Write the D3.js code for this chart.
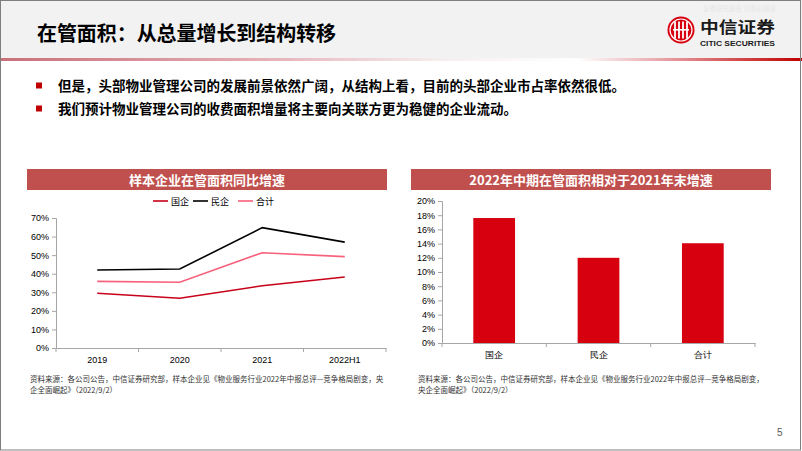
<!DOCTYPE html>
<html><head><meta charset="utf-8">
<script src="https://cdn.jsdelivr.net/npm/d3@7/dist/d3.min.js"></script>
<style>
html,body{margin:0;padding:0;background:#fff;}
svg{display:block;font-family:"Noto Sans CJK SC","Noto Sans",sans-serif;}
</style></head>
<body>
<svg id="c" width="802" height="451"></svg>
<script>
// ---- data ----
const pageTitle = "在管面积：从总量增长到结构转移";
const bullets = [
  "但是，头部物业管理公司的发展前景依然广阔，从结构上看，目前的头部企业市占率依然很低。",
  "我们预计物业管理公司的收费面积增量将主要向关联方更为稳健的企业流动。"
];
const lineTitle = "样本企业在管面积同比增速";
const barTitle = "2022年中期在管面积相对于2021年末增速";
const years = ["2019", "2020", "2021", "2022H1"];
const seriesNames = ["国企", "民企", "合计"];
const soeValues = [29.5, 26.8, 33.5, 38.2];
const privValues = [42.0, 42.5, 64.8, 57.0];
const totalValues = [35.9, 35.4, 51.3, 49.2];
const lineTicks = [0, 10, 20, 30, 40, 50, 60, 70];
const barCats = ["国企", "民企", "合计"];
const barValues = [17.6, 12.0, 14.05];
const barTicks = [0, 2, 4, 6, 8, 10, 12, 14, 16, 18, 20];
const sourceLeft = ["资料来源：各公司公告，中信证券研究部，样本企业见《物业服务行业2022年中报总评—竞争格局剧变，央", "企全面崛起》（2022/9/2）"];
const sourceRight = ["资料来源：各公司公告，中信证券研究部，样本企业见《物业服务行业2022年中报总评—竞争格局剧变，", "央企全面崛起》（2022/9/2）"];

const svg = d3.select("#c");
const defs = svg.append("defs");

// ---- page frame ----
svg.append("rect").attr("x",0).attr("y",0).attr("width",802).attr("height",59).attr("fill","#f2f2f2");
const g1 = defs.append("linearGradient").attr("id","hl").attr("x1","0").attr("x2","1").attr("y1","0").attr("y2","0");
[[0,"#c8707a"],[0.3,"#e3a9b0"],[0.55,"#f6eeee"],[0.72,"#ffffff"],[0.82,"#e9a9ae"],[1,"#c00000"]].forEach(s=>g1.append("stop").attr("offset",s[0]).attr("stop-color",s[1]));
svg.append("rect").attr("x",0).attr("y",58).attr("width",802).attr("height",3).attr("fill","url(#hl)");
svg.append("rect").attr("x",0.5).attr("y",0.5).attr("width",800).attr("height",449.5).attr("fill","none").attr("stroke","#7f7f7f").attr("stroke-width",1);

svg.append("text").attr("x",37).attr("y",41).attr("font-size",20).attr("font-weight","bold").attr("fill","#000")
  .attr("textLength",299).attr("lengthAdjust","spacingAndGlyphs").text(pageTitle);

// logo
svg.append("text").attr("x",703).attr("y",11).attr("font-size",6.5).attr("fill","#e6e6e6").text("证券研究报告  请务必阅读");
const lg = svg.append("g").attr("transform","translate(681,30)");
lg.append("circle").attr("r",13.5).attr("fill","#d7000f");
lg.append("circle").attr("r",11).attr("fill","none").attr("stroke","#fff").attr("stroke-width",1.2);
[-6,-2,2,6].forEach(x=>lg.append("rect").attr("x",x-0.9).attr("y",-8.5).attr("width",1.8).attr("height",17).attr("fill","#fff"));
lg.append("rect").attr("x",-8).attr("y",-1).attr("width",16).attr("height",1.6).attr("fill","#fff");
svg.append("text").attr("x",700).attr("y",33).attr("font-size",15.5).attr("font-weight","bold").attr("fill","#1a1a1a")
  .attr("textLength",75).attr("lengthAdjust","spacingAndGlyphs").text("中信证券");
svg.append("text").attr("x",700).attr("y",45.5).attr("font-family","'Liberation Sans Narrow','Liberation Sans',sans-serif").attr("font-size",8).attr("font-weight","bold").attr("fill","#1a1a1a")
  .attr("textLength",75).attr("lengthAdjust","spacingAndGlyphs").text("CITIC SECURITIES");

// bullets
bullets.forEach((b,i)=>{
  const y = 86 + i*23;
  svg.append("rect").attr("x",36).attr("y",y-3.5).attr("width",6).attr("height",6).attr("fill","#c00000");
  svg.append("text").attr("x",58).attr("y",y+5).attr("font-size",13.5).attr("font-weight","bold").attr("fill","#000").text(b);
});

// chart headers
function header(x, w, t){
  svg.append("rect").attr("x",x).attr("y",169).attr("width",w).attr("height",21).attr("fill","#c0504d");
  svg.append("text").attr("x",x+w/2).attr("y",184.5).attr("text-anchor","middle").attr("font-size",13).attr("font-weight","bold").attr("fill","#fff").text(t);
}
header(27,360,lineTitle);
header(411,360,barTitle);

const axisColor = "#a6a6a6";
const labFont = "'Liberation Sans',Arial,sans-serif";

// ---- line chart ----
const xL = d3.scaleBand().domain(years).range([56,386]).padding(0);
const yL = d3.scaleLinear().domain([0,70]).range([348,218]);
const lc = svg.append("g");
const yAx = lc.append("g").attr("transform","translate(56,0)").call(d3.axisLeft(yL).tickValues(lineTicks).tickFormat(d=>d+"%").tickSize(4).tickPadding(3));
const xAx = lc.append("g").attr("transform","translate(0,348)").call(d3.axisBottom(xL).tickSize(0).tickPadding(9));
[yAx,xAx].forEach(a=>{a.selectAll("path,line").attr("stroke",axisColor);a.selectAll("text").attr("font-family",labFont).attr("font-size",9).attr("fill","#000");});
years.forEach((y,i)=>{ const xb = xL(y)+xL.bandwidth(); lc.append("line").attr("x1",xb).attr("x2",xb).attr("y1",348).attr("y2",352).attr("stroke",axisColor); });
lc.append("line").attr("x1",56).attr("x2",56).attr("y1",348).attr("y2",352).attr("stroke",axisColor);

const lineColors = ["#c8001a","#000000","#f7617c"];
const allSeries = [soeValues, privValues, totalValues];
const lineGen = d3.line().x((d,i)=>xL(years[i])+xL.bandwidth()/2).y(d=>yL(d));
allSeries.forEach((s,k)=>{
  lc.append("path").datum(s).attr("d",lineGen).attr("fill","none").attr("stroke",lineColors[k]).attr("stroke-width",1.6);
});
// legend
const legX = [153,193,238];
seriesNames.forEach((n,k)=>{
  lc.append("line").attr("x1",legX[k]).attr("x2",legX[k]+15).attr("y1",201).attr("y2",201).attr("stroke",lineColors[k]).attr("stroke-width",1.6);
  lc.append("text").attr("x",legX[k]+18).attr("y",204.5).attr("font-size",9).attr("fill","#000").text(n);
});

// ---- bar chart ----
const xB = d3.scaleBand().domain(barCats).range([442,755]).paddingInner(0.6).paddingOuter(0.3);
const yB = d3.scaleLinear().domain([0,20]).range([343,201]);
const bc = svg.append("g");
const yAxB = bc.append("g").attr("transform","translate(442,0)").call(d3.axisLeft(yB).tickValues(barTicks).tickFormat(d=>d+"%").tickSize(4).tickPadding(3));
const xAxB = bc.append("g").attr("transform","translate(0,343)").call(d3.axisBottom(xB).tickSize(0).tickPadding(9));
[yAxB,xAxB].forEach(a=>{a.selectAll("path,line").attr("stroke",axisColor);a.selectAll("text").attr("font-family",labFont).attr("font-size",9).attr("fill","#000");});
xAxB.selectAll("text").attr("font-family",null);
const stepB = xB.step();
[0,1,2,3].forEach(i=>{ const xb = 442 + i*stepB; bc.append("line").attr("x1",xb).attr("x2",xb).attr("y1",343).attr("y2",347).attr("stroke",axisColor); });
bc.selectAll("rect.bar").data(barValues).enter().append("rect").attr("class","bar")
  .attr("x",(d,i)=>xB(barCats[i])).attr("width",xB.bandwidth())
  .attr("y",d=>yB(d)).attr("height",d=>yB(0)-yB(d)).attr("fill","#d7000f");

// sources
sourceLeft.forEach((t,i)=>svg.append("text").attr("x",30).attr("y",382+i*11).attr("font-size",7.5).attr("fill","#333").text(t));
sourceRight.forEach((t,i)=>svg.append("text").attr("x",418).attr("y",382+i*11).attr("font-size",7.5).attr("fill","#333").text(t));

svg.append("text").attr("x",777).attr("y",436).attr("font-family",labFont).attr("font-size",10).attr("fill","#595959").text("5");
</script>
</body></html>
